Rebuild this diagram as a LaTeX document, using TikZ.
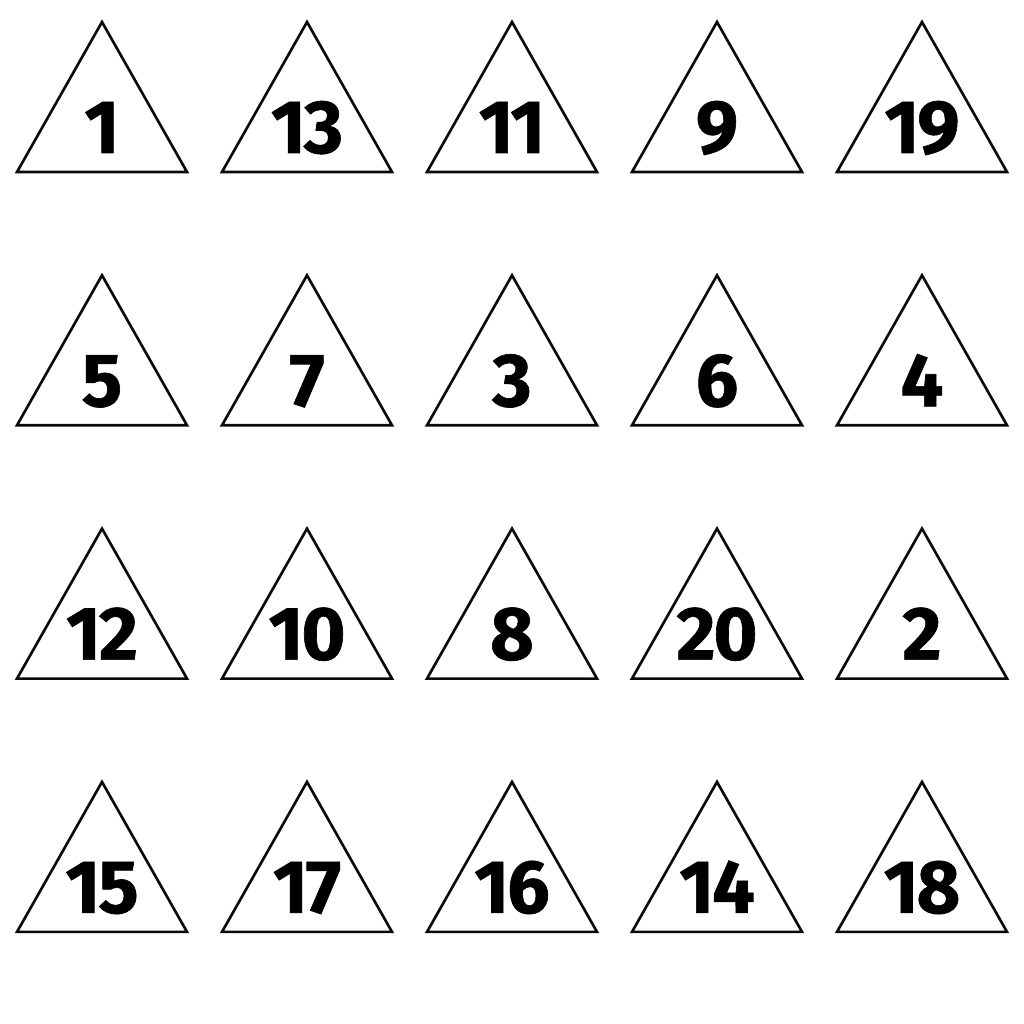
\documentclass[tikz,border=0pt]{standalone}
\usepackage{fontspec}
\setmainfont{Open Sans}
\newfontfamily\numfont[Numbers={Proportional,Lining},LetterSpace=-3,FakeBold=0.8]{Fira Sans Bold}
\usepackage{tikz}
\usetikzlibrary{calc}
\definecolor{edgeblack}{RGB}{10,10,10}

\begin{document}
\begin{tikzpicture}[x=0.02cm,y=-0.02cm,
  tri/.style={draw=edgeblack,line width=1.5pt,line join=miter},
  num/.style={anchor=base,inner sep=0pt,font=\numfont\fontsize{43}{43}\selectfont}]
\useasboundingbox (0,0) rectangle (1024,1024);
% rows: base y, columns: centre x
\foreach \lbl [count=\i from 0] in {1,13,11,9,19,5,7,3,6,4,12,10,8,20,2,15,17,16,14,18}{
  \pgfmathtruncatemacro{\r}{int(\i/5)}
  \pgfmathtruncatemacro{\c}{mod(\i,5)}
  \pgfmathsetmacro{\cx}{102+205*\c}
  \pgfmathsetmacro{\by}{172+253.3*\r}
  \coordinate (apex\i) at (\cx,\by-150);
  \coordinate (left\i) at (\cx-85,\by);
  \coordinate (right\i) at (\cx+85,\by);
  \draw[tri] (apex\i)--(right\i)--(left\i)--cycle;
  \node[num] (n\i) at (\cx,\by-19) {\lbl};
}
\end{tikzpicture}
\end{document}
